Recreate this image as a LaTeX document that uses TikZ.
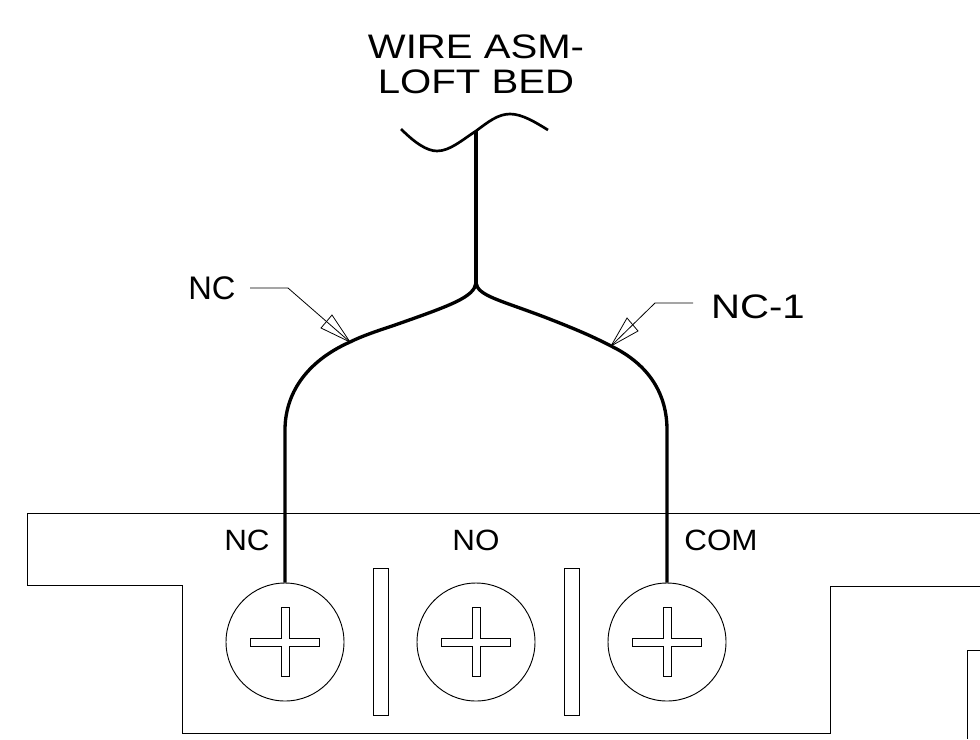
\documentclass[tikz,border=0pt]{standalone}
\usepackage{fontspec}
\setmainfont{Liberation Sans}
\tikzset{
	outline/.style = {line width=0.7pt},
	wire/.style = {line width=2.5pt},
	leader/.style = {line width=0.6pt},
	screw/.style = {draw, circle, line width=0.7pt, inner sep=0pt, minimum size=88.5pt},
	big/.style = {inner sep=0pt, font=\fontsize{25.5}{25.5}\selectfont, xscale=1.18},
	small/.style = {inner sep=0pt, font=\fontsize{24.5}{24.5}\selectfont},
	term/.style = {inner sep=0pt, font=\fontsize{22}{22}\selectfont, xscale=1.07},
	cross/.pic = {
		\draw[outline] (-4,-34.5) -- (4,-34.5) -- (4,-4) -- (34.5,-4) -- (34.5,4) -- (4,4) -- (4,34.5)
			-- (-4,34.5) -- (-4,4) -- (-34.5,4) -- (-34.5,-4) -- (-4,-4) -- cycle;
	}
}
\begin{document}
\begin{tikzpicture}[x=0.75pt,y=-0.75pt]
	\useasboundingbox (0,0) rectangle (980,739);
	% labels
	\node (asm) [big] at (476,47) {WIRE ASM-};
	\node (bed) [big] at (476,82) {LOFT BED};
	\node (nclabel) [small] at (212,288) {NC};
	\node (nconelabel) [big] at (758,307) {NC-1};
	\node (ncterm) [term] at (247,540) {NC};
	\node (noterm) [term] at (476,540) {NO};
	\node (comterm) [term] at (721,540) {COM};
	% screws
	\node (s1) [screw] at (285,642) {};
	\node (s2) [screw] at (476,642) {};
	\node (s3) [screw] at (667,642) {};
	\pic at (s1) {cross};
	\pic at (s2) {cross};
	\pic at (s3) {cross};
	% block
	\draw[outline] (980,513) -- (27,513) -- (27,585) -- (182,585) -- (182,733) -- (830,733) -- (830,586) -- (980,586);
	\draw[outline] (373,568) rectangle (388,715);
	\draw[outline] (564,568) rectangle (579,715);
	\draw[outline] (980,650) -- (967,650) -- (967,739);
	% wires
	\coordinate (top) at (476,131);
	\coordinate (split) at (476,283);
	\coordinate (tipl) at (350,342);
	\coordinate (tipr) at (611,346);
	\coordinate (bendl) at (285,430);
	\coordinate (bendr) at (667,430);
	\draw[line width=2pt] (401,129) .. controls (415,143) and (427,151) .. (437,151)
		.. controls (450,151) and (462,140) .. (top) .. controls (488,122) and (498,114) .. (510,114)
		.. controls (522,114) and (535,122) .. (548,130);
	\draw[wire] (top) -- (split);
	\draw[wire] (split) .. controls (474,297) and (452,305) .. (395,325)
		.. controls (377,331) and (362,336) .. (tipl) .. controls (305,362) and (285,395) .. (bendl) -- (s1.north);
	\draw[wire] (split) .. controls (478,296) and (500,300) .. (547,318)
		.. controls (570,327) and (590,335) .. (tipr) .. controls (650,365) and (667,395) .. (bendr) -- (s3.north);
	% leaders
	\draw[leader] (250,288) -- (288,288) -- (tipl);
	\draw[leader] (tipl) -- (332,315) -- (321,328) -- cycle;
	\draw[leader] (693,303) -- (655,303) -- (tipr);
	\draw[leader] (tipr) -- (627,318) -- (638,331) -- cycle;
\end{tikzpicture}
\end{document}
